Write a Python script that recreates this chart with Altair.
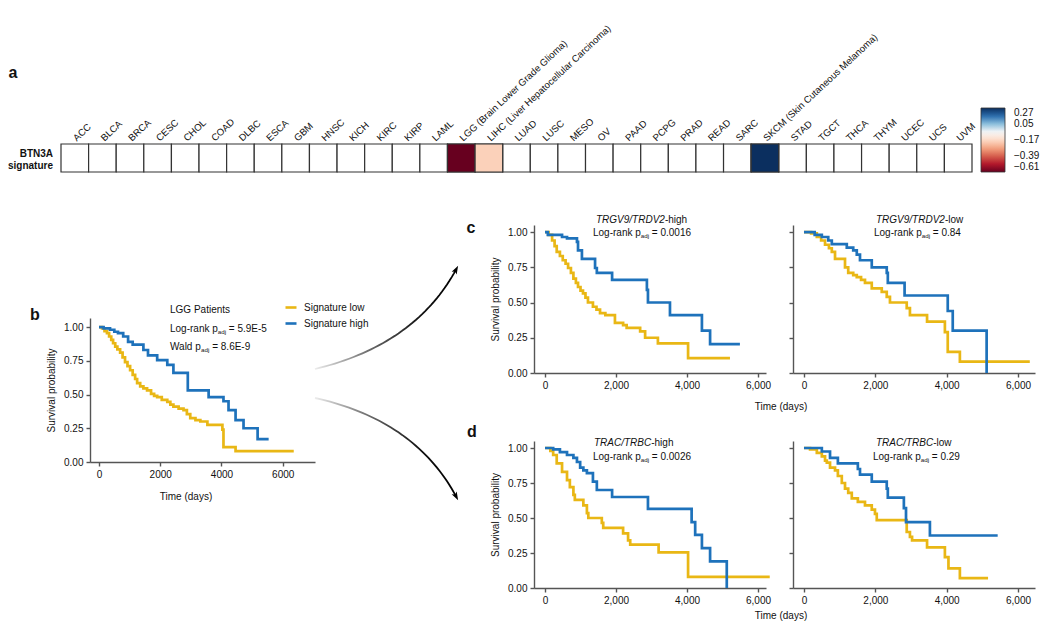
import altair as alt
import numpy as np
import pandas as pd

# ---------------- data ----------------
cancers = ["ACC", "BLCA", "BRCA", "CESC", "CHOL", "COAD", "DLBC", "ESCA", "GBM", "HNSC",
           "KICH", "KIRC", "KIRP", "LAML", "LGG", "LIHC", "LUAD", "LUSC", "MESO", "OV",
           "PAAD", "PCPG", "PRAD", "READ", "SARC", "SKCM", "STAD", "TGCT", "THCA", "THYM",
           "UCEC", "UCS", "UVM"]
cancer_full = {"LGG": "LGG (Brain Lower Grade Glioma)",
               "LIHC": "LIHC (Liver Hepatocellular Carcinoma)",
               "SKCM": "SKCM (Skin Cutaneous Melanoma)"}
sig_values = {"LGG": -0.61, "LIHC": -0.19, "SKCM": 0.27}
legend_ticks = [0.27, 0.05, -0.17, -0.39, -0.61]
color_stops = [-0.61, -0.50, -0.39, -0.28, -0.17, -0.06, 0.05, 0.16, 0.27]
color_cols = ["#67001f", "#b2182b", "#d6604d", "#f4a582", "#fddbc7", "#f7f7f7",
              "#8cbfdc", "#2a6cae", "#0b2f5f"]

groups = ["Signature low", "Signature high"]
group_colors = ["#E9B715", "#1E72BB"]
x_ticks = [0, 2000, 4000, 6000]
y_ticks = [0, 0.25, 0.5, 0.75, 1.0]

# panel b: LGG patients
b_low_t = [0, 100, 180, 260, 330, 400, 460, 530, 600, 690, 770, 850, 930, 1016, 1100, 1180, 1245,
           1345, 1450, 1570, 1700, 1800, 1900, 2050, 2230, 2330, 2430, 2600, 2760, 2870, 2980,
           3150, 3310, 3540, 4030, 4065, 4460, 6360]
b_low_s = [1.00, 0.99, 0.97, 0.955, 0.93, 0.905, 0.88, 0.855, 0.835, 0.81, 0.775, 0.74, 0.71,
           0.68, 0.645, 0.615, 0.585, 0.56, 0.545, 0.53, 0.505, 0.49, 0.48, 0.46, 0.445, 0.425,
           0.41, 0.395, 0.385, 0.355, 0.325, 0.31, 0.30, 0.275, 0.24, 0.11, 0.08, 0.08]
b_high_t = [0, 150, 360, 500, 620, 790, 950, 1100, 1450, 1600, 1900, 2230, 2430, 2900, 3580,
            4065, 4230, 4460, 4720, 5180, 5540]
b_high_s = [1.00, 0.99, 0.98, 0.965, 0.955, 0.93, 0.89, 0.87, 0.83, 0.79, 0.755, 0.72, 0.66,
            0.53, 0.48, 0.45, 0.385, 0.31, 0.25, 0.17, 0.17]

# panel c: TRGV9/TRDV2-high / -low
c1_low_t = [0, 100, 200, 270, 330, 420, 500, 580, 650, 730, 800, 870, 930, 1000, 1070, 1140, 1210,
            1350, 1450, 1550, 1700, 1970, 2200, 2300, 2680, 2820, 3180, 4030, 5210]
c1_low_s = [1.0, 0.98, 0.94, 0.90, 0.86, 0.83, 0.80, 0.775, 0.745, 0.71, 0.67, 0.64, 0.61, 0.585,
            0.565, 0.535, 0.50, 0.47, 0.45, 0.425, 0.41, 0.355, 0.34, 0.32, 0.295, 0.25, 0.21,
            0.105, 0.105]
c1_high_t = [0, 80, 480, 620, 900, 930, 1040, 1410, 1460, 1890, 2870, 2900, 3520, 4420, 4650, 5490]
c1_high_s = [1.0, 0.98, 0.965, 0.955, 0.93, 0.87, 0.81, 0.745, 0.71, 0.66, 0.59, 0.50, 0.41,
             0.30, 0.205, 0.205]
c2_low_t = [0, 200, 360, 480, 590, 700, 780, 870, 1150, 1240, 1380, 1480, 1600, 1710, 1900, 2180,
            2320, 2410, 2880, 2970, 3450, 3950, 4030, 4370, 6330]
c2_low_s = [1.0, 0.99, 0.965, 0.94, 0.91, 0.885, 0.86, 0.81, 0.75, 0.71, 0.695, 0.68, 0.66, 0.64,
            0.60, 0.575, 0.54, 0.50, 0.46, 0.41, 0.365, 0.29, 0.15, 0.08, 0.08]
c2_high_t = [0, 300, 500, 680, 780, 1200, 1380, 1480, 1570, 1900, 2320, 2350, 2820, 4030, 4170, 5120]
c2_high_s = [1.0, 0.98, 0.965, 0.94, 0.915, 0.89, 0.87, 0.84, 0.80, 0.75, 0.71, 0.64, 0.55, 0.44,
             0.30, 0.0]

# panel d: TRAC/TRBC-high / -low
d1_low_t = [0, 150, 230, 330, 480, 620, 700, 800, 840, 1080, 1180, 1220, 1600, 1640, 2200, 2340,
            2400, 3200, 4030, 6330]
d1_low_s = [1.0, 0.98, 0.95, 0.89, 0.83, 0.77, 0.72, 0.665, 0.63, 0.59, 0.535, 0.50, 0.465, 0.43,
            0.39, 0.34, 0.31, 0.255, 0.08, 0.08]
d1_high_t = [0, 230, 420, 620, 800, 900, 990, 1080, 1180, 1350, 1460, 1890, 2900, 4130, 4230,
             4420, 4650, 5120]
d1_high_s = [1.0, 0.99, 0.97, 0.95, 0.93, 0.90, 0.86, 0.84, 0.82, 0.76, 0.70, 0.65, 0.565, 0.47,
             0.38, 0.285, 0.19, 0.0]
d2_low_t = [0, 170, 360, 500, 590, 640, 730, 870, 950, 1060, 1150, 1240, 1340, 1510, 1710, 1900,
            1990, 2040, 2880, 2970, 3030, 3450, 3950, 4050, 4370, 5160]
d2_low_s = [1.0, 0.99, 0.965, 0.94, 0.91, 0.895, 0.86, 0.84, 0.80, 0.75, 0.71, 0.68, 0.64, 0.615,
            0.59, 0.56, 0.53, 0.485, 0.40, 0.365, 0.34, 0.29, 0.22, 0.14, 0.07, 0.07]
d2_high_t = [0, 500, 730, 950, 1510, 1570, 1900, 2320, 2350, 2800, 2860, 3530, 5430]
d2_high_s = [1.0, 0.975, 0.93, 0.89, 0.85, 0.81, 0.76, 0.71, 0.645, 0.57, 0.47, 0.375, 0.375]

# ---------------- layout ----------------
W, H = 1034, 616
FONT = "Liberation Sans"
INK = "#111111"
OX, OY = 8, 8  # page margin


def cx(v):
    return v - OX


def cy(v):
    return v - OY


ARIAL = {' ': 278, '!': 278, '(': 333, ')': 333, '-': 333, '.': 278, '/': 278, '=': 584, ',': 278,
         'A': 667, 'B': 667, 'C': 722, 'D': 722, 'E': 667, 'F': 611, 'G': 778, 'H': 722, 'I': 278,
         'J': 500, 'K': 667, 'L': 556, 'M': 833, 'N': 722, 'O': 778, 'P': 667, 'Q': 778, 'R': 722,
         'S': 667, 'T': 611, 'U': 722, 'V': 667, 'W': 944, 'X': 667, 'Y': 667, 'Z': 611,
         'a': 556, 'b': 556, 'c': 500, 'd': 556, 'e': 556, 'f': 278, 'g': 556, 'h': 556, 'i': 222,
         'j': 222, 'k': 500, 'l': 222, 'm': 833, 'n': 556, 'o': 556, 'p': 556, 'q': 556, 'r': 333,
         's': 500, 't': 278, 'u': 556, 'v': 500, 'w': 722, 'x': 500, 'y': 500, 'z': 500}


def tw(s, size):
    return sum(ARIAL.get(ch, 556) for ch in s) * size / 1000.0


def text_layer(s, x, y, size=10, weight="normal", style="normal", align="left", angle=None):
    kw = dict(align=align, baseline="middle", fontSize=size, font=FONT, fontWeight=weight,
              fontStyle=style, color=INK)
    if angle is not None:
        kw["angle"] = angle
    return alt.Chart(pd.DataFrame({"t": [s]})).mark_text(**kw).encode(
        x=alt.value(cx(x)), y=alt.value(cy(y)), text="t:N")


def rich(pieces, x, y, size=10):
    out = []
    pos = x
    for s, kind in pieces:
        fs = size * 0.62 if kind == "sub" else size
        lead = len(s) - len(s.lstrip(" "))
        pos += tw(" " * lead, fs)
        st = s.lstrip(" ")
        dy = 3 if kind == "sub" else 0
        out.append(text_layer(st, pos, y + dy, fs, style="italic" if kind == "it" else "normal"))
        pos += tw(st, fs)
    return out


layers = []

# ---------------- heatmap (a) ----------------
labels = [cancer_full.get(c, c) for c in cancers]
hm = pd.DataFrame({"label": labels, "row": ["BTN3A signature"] * len(cancers),
                   "value": [sig_values.get(c, np.nan) for c in cancers]})
hx = alt.X("label:N", sort=labels,
           scale=alt.Scale(range=[cx(61), cx(972)], paddingInner=0, paddingOuter=0),
           axis=alt.Axis(orient="top", offset=-cy(144), labelAngle=317, labelAlign="left",
                         labelBaseline="middle", ticks=False, domain=False, labelPadding=5,
                         title=None, labelFontSize=9.6, labelFont=FONT, labelColor=INK,
                         labelOverlap=False, labelLimit=400))
hy = alt.Y("row:N", scale=alt.Scale(range=[cy(144), cy(172)], paddingInner=0, paddingOuter=0),
           axis=None)
hm_base = alt.Chart(hm).mark_rect(fill="white", stroke="#333333", strokeWidth=1.2).encode(x=hx, y=hy)
hm_col = alt.Chart(hm).transform_filter("isValid(datum.value)").mark_rect(
    stroke="#333333", strokeWidth=1.2).encode(
    x=hx, y=hy,
    color=alt.Color("value:Q",
                    scale=alt.Scale(domain=color_stops, range=color_cols, interpolate="rgb"),
                    legend=alt.Legend(orient="none", legendX=cx(981), legendY=cy(108), title=None,
                                      direction="vertical", gradientLength=64,
                                      gradientThickness=24, values=legend_ticks, format=".2f",
                                      labelFontSize=10, labelFont=FONT, labelColor=INK,
                                      labelOffset=9, padding=0, gradientStrokeColor="#333333",
                                      gradientStrokeWidth=0.8, labelOverlap=False,
                                      labelBaseline="middle")))
layers.append(alt.layer(hm_base, hm_col))
layers.append(text_layer("BTN3A", 53, 154, 10, weight="bold", align="right"))
layers.append(text_layer("signature", 53, 166, 10, weight="bold", align="right"))

# ---------------- arrows ----------------
arrow_ctrl = {"up": [(315, 369), (415, 345), (458, 266)],
              "down": [(315, 398), (415, 420), (458, 500)]}
arr_rows, head_rows = [], []
tt = np.linspace(0, 1, 40)
for name, (p0, p1, p2) in arrow_ctrl.items():
    p0, p1, p2 = np.array(p0, float), np.array(p1, float), np.array(p2, float)
    u = (p2 - p1) / np.linalg.norm(p2 - p1)
    end = p2 - u * 4
    for t in tt:
        pt = (1 - t) ** 2 * p0 + 2 * (1 - t) * t * p1 + t ** 2 * end
        arr_rows.append({"arrow": name, "x": cx(pt[0]), "y": cy(pt[1]), "t": t})
    c = p2 - u * 4.5
    head_rows.append({"arrow": name, "x": cx(c[0]), "y": cy(c[1]),
                      "ang": float(np.degrees(np.arctan2(u[0], -u[1])) % 360)})
ax_x = alt.X("x:Q", scale=alt.Scale(domain=[0, W], range=[0, W], nice=False, zero=False), axis=None)
ax_y = alt.Y("y:Q", scale=alt.Scale(domain=[0, H], range=[0, H], nice=False, zero=False), axis=None)
grad = {"gradient": "linear", "x1": 0, "x2": 1, "y1": 0, "y2": 0,
        "stops": [{"offset": 0, "color": "#ececec"}, {"offset": 0.4, "color": "#666666"},
                  {"offset": 0.75, "color": "#111111"}, {"offset": 1, "color": "#000000"}]}
arr_line = alt.Chart(pd.DataFrame(arr_rows)).mark_line(stroke=grad, strokeWidth=1.8).encode(
    x=ax_x, y=ax_y, detail="arrow:N", order="t:Q")
arr_head = alt.Chart(pd.DataFrame(head_rows)).mark_point(
    shape="M0,-1L0.6,0.75L0,0.35L-0.6,0.75Z", filled=True, fill="#000000", opacity=1,
    size=90, strokeWidth=0).encode(x=ax_x, y=ax_y, angle=alt.Angle("ang:Q", scale=None))
layers.append(alt.layer(arr_line, arr_head))

# ---------------- survival panels ----------------
panels = [
    dict(low=(b_low_t, b_low_s), high=(b_high_t, b_high_s), x_px=(90, 315), x_dom=(-294, 7054),
         y_px=(462, 318), y_dom=(0, 1.067), fmt="d", ylabels=True, ytitle="Survival probability",
         legend=True),
    dict(low=(c1_low_t, c1_low_s), high=(c1_high_t, c1_high_s), x_px=(534, 766),
         x_dom=(-310, 6225), y_px=(373, 225), y_dom=(0, 1.05), fmt=",d", ylabels=True,
         ytitle="Survival probability", legend=False),
    dict(low=(c2_low_t, c2_low_s), high=(c2_high_t, c2_high_s), x_px=(793, 1035),
         x_dom=(-308, 6476), y_px=(373, 225), y_dom=(0, 1.05), fmt=",d", ylabels=False,
         ytitle=None, legend=False),
    dict(low=(d1_low_t, d1_low_s), high=(d1_high_t, d1_high_s), x_px=(534, 766),
         x_dom=(-310, 6225), y_px=(588, 441), y_dom=(0, 1.05), fmt=",d", ylabels=True,
         ytitle="Survival probability", legend=False),
    dict(low=(d2_low_t, d2_low_s), high=(d2_high_t, d2_high_s), x_px=(793, 1035),
         x_dom=(-308, 6476), y_px=(588, 441), y_dom=(0, 1.05), fmt=",d", ylabels=False,
         ytitle=None, legend=False),
]

for p in panels:
    rows = []
    for grp, (ts, ss) in zip(groups, (p["low"], p["high"])):
        for i, (t, s) in enumerate(zip(ts, ss)):
            rows.append({"time": t, "surv": s, "group": grp, "i": i})
    df = pd.DataFrame(rows)
    xax = dict(orient="bottom", offset=cy(p["y_px"][0]) - H, values=x_ticks, format=p["fmt"],
               tickSize=4, labelPadding=3, labelFontSize=10, labelFont=FONT, labelColor=INK,
               domainColor="#555555", tickColor="#555555", domainWidth=1.4, tickWidth=1.4,
               grid=False, labelFlush=False, title=None)
    yax = dict(orient="left", offset=-cx(p["x_px"][0]), values=y_ticks, format=".2f",
               labels=p["ylabels"], tickSize=4, labelPadding=3, labelFontSize=10,
               labelFont=FONT, labelColor=INK, domainColor="#555555", tickColor="#555555",
               domainWidth=1.4, tickWidth=1.4, grid=False, labelFlush=False)
    if p["ytitle"]:
        yax.update(title=p["ytitle"], titleFont=FONT, titleFontSize=10, titleFontWeight="normal",
                   titleColor=INK, titlePadding=7)
    else:
        yax.update(title=None)
    if p["legend"]:
        leg = alt.Legend(orient="none", legendX=cx(284), legendY=cy(300.5), title=None,
                         symbolType="stroke", symbolSize=121, symbolStrokeWidth=2.6,
                         labelFontSize=10, labelFont=FONT, labelColor=INK, labelOffset=6,
                         rowPadding=3, padding=0)
    else:
        leg = None
    color = alt.Color("group:N", scale=alt.Scale(domain=groups, range=group_colors), legend=leg)
    line = alt.Chart(df).mark_line(interpolate="step-after", strokeWidth=2.7).encode(
        x=alt.X("time:Q", scale=alt.Scale(domain=list(p["x_dom"]),
                                          range=[cx(p["x_px"][0]), cx(p["x_px"][1])],
                                          nice=False, zero=False), axis=alt.Axis(**xax)),
        y=alt.Y("surv:Q", scale=alt.Scale(domain=list(p["y_dom"]),
                                          range=[cy(p["y_px"][0]), cy(p["y_px"][1])],
                                          nice=False, zero=False), axis=alt.Axis(**yax)),
        color=color, order="i:Q")
    layers.append(line)

# ---------------- annotations ----------------
layers.append(text_layer("LGG Patients", 170, 310, 10))
layers += rich([("Log-rank p", "n"), ("adj", "sub"), (" = 5.9E-5", "n")], 170, 329)
layers += rich([("Wald p", "n"), ("adj", "sub"), (" = 8.6E-9", "n")], 170, 347)

layers += rich([("TRGV9/TRDV2", "it"), ("-high", "n")], 596, 220)
layers += rich([("Log-rank p", "n"), ("adj", "sub"), (" = 0.0016", "n")], 593, 233)
layers += rich([("TRGV9/TRDV2", "it"), ("-low", "n")], 876, 220)
layers += rich([("Log-rank p", "n"), ("adj", "sub"), (" = 0.84", "n")], 874, 233)
layers += rich([("TRAC/TRBC", "it"), ("-high", "n")], 594, 443)
layers += rich([("Log-rank p", "n"), ("adj", "sub"), (" = 0.0026", "n")], 593, 457)
layers += rich([("TRAC/TRBC", "it"), ("-low", "n")], 876, 443)
layers += rich([("Log-rank p", "n"), ("adj", "sub"), (" = 0.29", "n")], 873, 457)

layers.append(text_layer("Time (days)", 186, 497, 10, align="center"))
layers.append(text_layer("Time (days)", 781, 407, 10, align="center"))
layers.append(text_layer("Time (days)", 781, 616, 10, align="center"))

for lab, x, y in [("a", 13, 73), ("b", 35, 315), ("c", 471, 228), ("d", 472, 432)]:
    layers.append(text_layer(lab, x, y, 16, weight="bold", align="center"))

chart = alt.layer(*layers).resolve_scale(
    x="independent", y="independent", color="independent"
).properties(
    width=W, height=H, padding=0, autosize=alt.AutoSizeParams(type="none"), background="white"
).configure_view(stroke=None)

chart.save("out.html", embed_options={"renderer": "svg", "actions": False})
